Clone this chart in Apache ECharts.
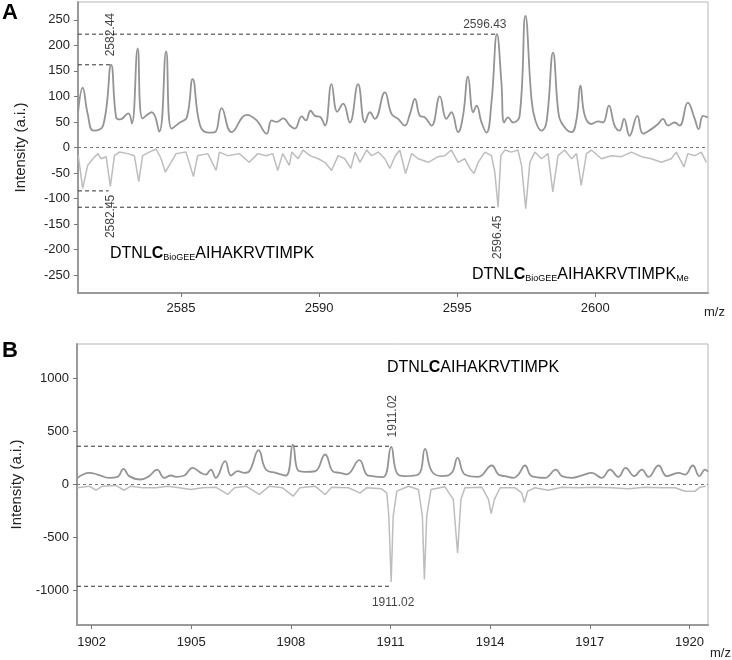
<!DOCTYPE html>
<html>
<head>
<meta charset="utf-8">
<script src="https://cdn.jsdelivr.net/npm/echarts@6/dist/echarts.min.js"></script>
<style>
html,body{margin:0;padding:0;background:#fff;}
#c{width:732px;height:660px;}
</style>
</head>
<body>
<div id="c"></div>
<script>
// ---------- Panel A data (m/z, intensity) ----------
const mzTopA = [2581.27,2581.44,2581.62,2581.83,2582.18,2582.47,2582.65,2582.79,2583.09,2583.22,2583.43,2583.61,2583.94,2584.21,2584.46,2584.66,2584.96,2585.21,2585.42,2585.69,2585.99,2586.23,2586.47,2586.83,2587.38,2587.74,2588.10,2588.28,2588.46,2588.70,2588.94,2589.12,2589.37,2589.52,2589.69,2589.85,2590.03,2590.21,2590.45,2590.66,2590.87,2591.11,2591.41,2591.66,2591.84,2592.02,2592.38,2592.62,2592.86,2593.10,2593.29,2593.47,2593.65,2593.83,2594.07,2594.37,2594.61,2594.79,2595.03,2595.21,2595.39,2595.58,2595.70,2595.88,2596.06,2596.24,2596.44,2596.60,2596.70,2596.84,2597.02,2597.26,2597.47,2597.69,2597.83,2598.05,2598.23,2598.47,2598.65,2598.77,2599.14,2599.32,2599.46,2599.62,2599.86,2600.10,2600.28,2600.49,2600.70,2600.88,2601.04,2601.24,2601.52,2601.73,2602.03,2602.27,2602.45,2602.63,2602.87,2603.05,2603.35,2603.60,2603.74,2603.90,2604.07];
const intTopA = [68,117,66,33,43,162,59,55,67,47,194,57,69,31,188,37,49,59,134,43,29,30,77,30,64,53,27,53,50,57,43,37,61,53,72,62,60,43,124,70,86,49,124,49,69,56,108,66,56,43,66,95,62,59,43,100,56,69,30,62,139,69,82,49,29,88,222,128,49,59,49,62,258,95,53,33,49,186,75,49,30,56,121,62,46,51,49,82,43,33,56,23,62,27,36,46,56,43,49,43,88,56,36,62,59];

const mzBotA = [2581.28,2581.44,2581.62,2581.81,2581.99,2582.11,2582.29,2582.44,2582.59,2582.77,2583.07,2583.31,2583.47,2583.61,2583.85,2584.10,2584.28,2584.43,2584.64,2584.82,2585.18,2585.45,2585.60,2585.97,2586.27,2586.39,2586.69,2587.11,2587.47,2587.78,2588.08,2588.32,2588.50,2588.68,2588.92,2589.01,2589.24,2589.42,2589.67,2589.97,2590.21,2590.45,2590.69,2590.93,2591.15,2591.30,2591.48,2591.72,2591.90,2592.14,2592.38,2592.56,2592.74,2592.92,2593.13,2593.35,2593.59,2593.95,2594.31,2594.55,2594.79,2595.03,2595.27,2595.46,2595.61,2595.76,2596.00,2596.24,2596.36,2596.48,2596.58,2596.72,2596.96,2597.20,2597.33,2597.48,2597.63,2597.81,2598.05,2598.29,2598.46,2598.65,2598.89,2599.14,2599.32,2599.49,2599.68,2599.86,2600.22,2600.58,2600.94,2601.31,2601.67,2602.03,2602.39,2602.75,2602.93,2603.21,2603.35,2603.60,2603.84,2604.02];
const intBotA = [-16,-80,-35,-22,-12,-22,-18,-76,-16,-9,-12,-16,-67,-16,-9,-3,-22,-48,-29,-12,-9,-57,-16,-12,-45,-9,-16,-12,-29,-12,-16,-12,-45,-12,-35,-9,-22,-5,-16,-22,-29,-45,-16,-22,-41,-9,-29,-5,-16,-9,-22,-41,-18,-5,-51,-12,-22,-29,-18,-16,-5,-29,-22,-41,-51,-29,-9,-16,-48,-117,-16,-5,-9,-5,-35,-120,-29,-9,-22,-12,-87,-16,-5,-22,-12,-74,-12,-5,-22,-16,-18,-9,-18,-22,-29,-22,-9,-38,-12,-16,-9,-29];

// ---------- Panel B data ----------
const mzTopB = [1901.57,1901.93,1902.18,1902.53,1902.78,1902.96,1903.13,1903.48,1903.73,1903.97,1904.19,1904.39,1904.54,1904.79,1905.04,1905.29,1905.44,1905.59,1905.74,1906.02,1906.20,1906.40,1906.60,1906.75,1907.03,1907.25,1907.55,1907.85,1908.06,1908.22,1908.42,1908.73,1909.03,1909.28,1909.48,1909.68,1910.06,1910.28,1910.44,1910.78,1911.02,1911.19,1911.44,1911.84,1912.04,1912.24,1912.54,1912.84,1913.02,1913.24,1913.64,1914.05,1914.25,1914.45,1914.70,1914.85,1915.05,1915.25,1915.65,1915.98,1916.16,1916.46,1916.76,1917.06,1917.36,1917.61,1917.86,1918.08,1918.34,1918.57,1918.77,1919.07,1919.32,1919.67,1919.87,1920.10,1920.30,1920.47,1920.56];
const intTopB = [60,110,94,63,72,148,79,47,79,141,63,85,72,85,157,110,94,141,63,220,85,126,110,126,324,141,110,85,375,130,120,125,283,120,110,95,229,94,79,70,355,110,79,94,336,126,79,110,251,94,72,179,94,79,63,94,179,79,63,141,79,63,85,110,63,141,72,157,79,141,72,179,79,110,94,179,79,141,120];

const mzBotB = [1901.57,1901.93,1902.13,1902.33,1902.73,1902.98,1903.18,1903.54,1903.94,1904.29,1904.64,1904.99,1905.34,1905.74,1906.10,1906.30,1906.65,1907.05,1907.35,1907.75,1908.07,1908.27,1908.73,1909.03,1909.23,1909.73,1910.08,1910.28,1910.73,1910.89,1910.95,1911.02,1911.08,1911.19,1911.54,1911.84,1911.96,1912.02,1912.09,1912.22,1912.64,1912.89,1913.02,1913.12,1913.24,1913.75,1913.95,1914.03,1914.13,1914.30,1914.75,1914.95,1915.03,1915.13,1915.35,1915.75,1916.16,1916.66,1917.16,1917.66,1918.16,1918.67,1919.17,1919.57,1919.87,1920.17,1920.32,1920.49];
const intBotB = [-31,-16,-54,-16,-9,-54,-16,-31,-31,-16,-31,-47,-31,-25,-94,-31,-16,-94,-16,-31,-110,-31,-16,-94,-25,-31,-79,-31,-41,-79,-299,-920,-299,-63,-16,-47,-299,-896,-299,-47,-22,-141,-648,-141,-31,-25,-141,-274,-141,-31,-31,-79,-170,-63,-31,-54,-25,-31,-25,-31,-41,-25,-31,-31,-63,-63,-25,-16];

// ---------- axes / ticks ----------
const xRangeA = [2581.27, 2604.08];
const yRangeA = [-285, 285];
const xTicksA = [2585, 2590, 2595, 2600];
const yTicksA = [-250, -200, -150, -100, -50, 0, 50, 100, 150, 200, 250];
const xRangeB = [1901.56, 1920.56];
const yRangeB = [-1325, 1325];
const xTicksB = [1902, 1905, 1908, 1911, 1914, 1917, 1920];
const yTicksB = [-1000, -500, 0, 500, 1000];

// reference (dashed) levels: [x end, y]
const refA = [[2596.43, 222], [2582.47, 162], [2582.38, -85], [2596.48, -117]];
const refB = [[1911.02, 361], [1911.02, -960]];

// peak annotations: [x, y, text, rotated]
const peakLabelsA = [[2582.45, 221, '2582.44', true], [2582.45, -135, '2582.45', true], [2596.47, -176, '2596.45', true], [2596.0, 241, '2596.43', false]];
const peakLabelsB = [[1911.07, 644, '1911.02', true], [1911.08, -1115, '1911.02', false]];

const zip = (a, b) => a.map((v, i) => [v, b[i]]);
const FONT = '"Liberation Sans", Arial, sans-serif';

function xAxisCfg(idx, range, ticks, margin) {
  return {
    type: 'value', gridIndex: idx, min: range[0], max: range[1],
    axisLine: { show: true, onZero: false, lineStyle: { color: '#9a9a9a', width: 2 } },
    axisTick: { show: true, length: 4, customValues: ticks, lineStyle: { color: '#777' } },
    axisLabel: { customValues: ticks, formatter: v => String(v), color: '#222', fontSize: 13, fontFamily: FONT, margin: margin },
    splitLine: { show: false }
  };
}
function yAxisCfg(idx, range, ticks) {
  return {
    type: 'value', gridIndex: idx, min: range[0], max: range[1],
    name: 'Intensity (a.i.)', nameLocation: 'middle', nameGap: 50,
    nameTextStyle: { fontSize: 15, color: '#222', fontFamily: FONT },
    axisLine: { show: true, onZero: false, lineStyle: { color: '#9a9a9a', width: 2 } },
    axisTick: { show: true, length: 4, customValues: ticks, lineStyle: { color: '#777' } },
    axisLabel: { customValues: ticks, formatter: v => String(v), color: '#222', fontSize: 13, fontFamily: FONT, margin: 8 },
    splitLine: { show: false }
  };
}
function trace(idx, data, color, width, smooth) {
  return { type: 'line', xAxisIndex: idx, yAxisIndex: idx, data: data, showSymbol: false,
    smooth: smooth, lineStyle: { color: color, width: width }, silent: true, z: 3 };
}
function dashed(idx, x0, x1, y, color, type) {
  return { type: 'line', xAxisIndex: idx, yAxisIndex: idx, data: [[x0, y], [x1, y]], showSymbol: false,
    lineStyle: { color: color, width: 1, type: type }, silent: true, z: 4 };
}
function labels(idx, list) {
  return { type: 'scatter', xAxisIndex: idx, yAxisIndex: idx, symbolSize: 0, silent: true, z: 5,
    data: list.map(l => ({ value: [l[0], l[1]], label: { show: true, position: 'inside', formatter: l[2],
      rotate: l[3] ? 90 : 0, fontSize: 12, color: '#111', fontFamily: FONT } })) };
}

const series = [
  dashed(0, xRangeA[0], xRangeA[1], 0, '#777', [3, 3]),
  dashed(1, xRangeB[0], xRangeB[1], 0, '#777', [3, 3]),
  trace(0, zip(mzBotA, intBotA), '#bdbdbd', 1.5, 0),
  trace(0, zip(mzTopA, intTopA), '#949494', 1.8, 0.45),
  trace(1, zip(mzBotB, intBotB), '#bdbdbd', 1.5, 0),
  trace(1, zip(mzTopB, intTopB), '#949494', 1.8, 0.45),
  labels(0, peakLabelsA),
  labels(1, peakLabelsB)
];
refA.forEach(r => series.push(dashed(0, xRangeA[0], r[0], r[1], '#333', [4, 3])));
refB.forEach(r => series.push(dashed(1, xRangeB[0], r[0], r[1], '#333', [4, 3])));

const pepRich = {
  n: { fontSize: 16, color: '#111', fontFamily: FONT },
  b: { fontSize: 16, color: '#111', fontFamily: FONT, fontWeight: 'bold' },
  s: { fontSize: 9, color: '#111', fontFamily: FONT, verticalAlign: 'bottom', padding: [7, 0, 0, 0] }
};

const chart = echarts.init(document.getElementById('c'), null, { renderer: 'canvas' });
chart.setOption({
  backgroundColor: '#fff',
  animation: false,
  grid: [
    { left: 78, top: 2, right: 24, height: 291, show: true, borderColor: '#b5b5b5', borderWidth: 1, containLabel: false },
    { left: 77, top: 344, right: 24, height: 281, show: true, borderColor: '#b5b5b5', borderWidth: 1, containLabel: false }
  ],
  xAxis: [xAxisCfg(0, xRangeA, xTicksA, 9), xAxisCfg(1, xRangeB, xTicksB, 11)],
  yAxis: [yAxisCfg(0, yRangeA, yTicksA), yAxisCfg(1, yRangeB, yTicksB)],
  series: series,
  graphic: [
    { type: 'text', left: 2, top: 2, style: { text: 'A', fontSize: 22, fontWeight: 'bold', fill: '#000', fontFamily: FONT } },
    { type: 'text', left: 2, top: 340, style: { text: 'B', fontSize: 22, fontWeight: 'bold', fill: '#000', fontFamily: FONT } },
    { type: 'text', left: 704, top: 306, style: { text: 'm/z', fontSize: 13, fill: '#222', fontFamily: FONT } },
    { type: 'text', left: 710, top: 647, style: { text: 'm/z', fontSize: 13, fill: '#222', fontFamily: FONT } },
    { type: 'text', left: 110, top: 246, style: { text: '{n|DTNL}{b|C}{s|BioGEE}{n|AIHAKRVTIMPK}', rich: pepRich } },
    { type: 'text', left: 472, top: 267, style: { text: '{n|DTNL}{b|C}{s|BioGEE}{n|AIHAKRVTIMPK}{s|Me}', rich: pepRich } },
    { type: 'text', left: 387, top: 360, style: { text: '{n|DTNL}{b|C}{n|AIHAKRVTIMPK}', rich: pepRich } }
  ]
});
</script>
</body>
</html>
